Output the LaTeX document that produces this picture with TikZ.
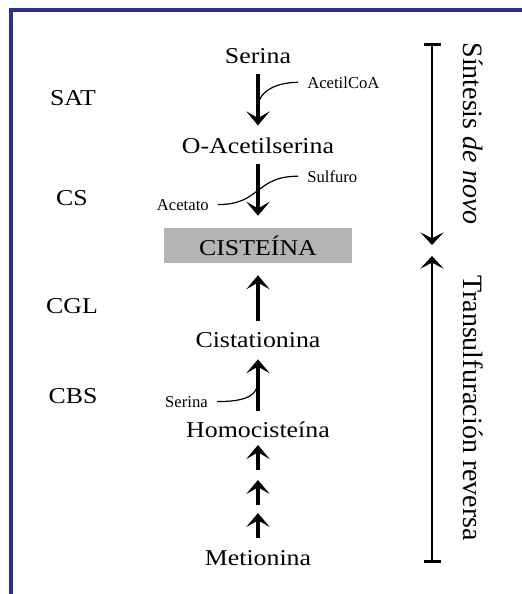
\documentclass[tikz,border=0pt]{standalone}
\usepackage{fontspec}
\setmainfont{Liberation Serif}
\newfontfamily\widerm{Liberation Serif}[FakeStretch=1.14]
\usetikzlibrary{arrows.meta}
\definecolor{frameBlue}{HTML}{2E3192}
\definecolor{boxGrey}{HTML}{B3B3B3}

\begin{document}
\begin{tikzpicture}[
    x=0.75pt,y=0.75pt,
    flow/.style={-{Stealth[length=10.5pt,width=17.5pt,inset=5pt]},line width=2.4pt},
    gap/.style={shorten <=8pt,shorten >=9pt},
    side/.style={line width=0.9pt},
    routebar/.style={{Bar[width=12.75pt]}-{Stealth[length=9.5pt,width=17.5pt,inset=4.5pt]},line width=2pt},
    metab/.style={font=\widerm\fontsize{17pt}{20pt}\selectfont,inner sep=0pt,
        text height=11.5pt,text depth=0pt,anchor=base},
    enzyme/.style={font=\widerm\fontsize{17pt}{20pt}\selectfont,inner sep=0pt,anchor=base},
    cosub/.style={font=\fontsize{12.5pt}{14pt}\selectfont,inner xsep=6.75pt,inner ysep=0pt},
    route/.style={font=\fontsize{21pt}{24pt}\selectfont,rotate=-90,anchor=base,inner sep=0pt},
]
\useasboundingbox (0,0) rectangle (522,-594);

% === FRAME ===
\draw[frameBlue,line width=3pt] (11,-594) -- (11,-10) -- (522,-10);

% === METABOLITES ===
\node[metab] (serina) at (258,-63) {Serina};
\node[metab] (oacetil) at (258,-153) {O-Acetilserina};
\node[metab,fill=boxGrey,anchor=center,minimum width=141pt,minimum height=26.25pt,
    text height=14.25pt] (cisteina) at (258,-245.5) {CISTEÍNA};
\node[metab] (cistat) at (258,-347) {Cistationina};
\node[metab] (homocis) at (258,-437) {Homocisteína};
\node[metab] (metion) at (258,-565) {Metionina};

% === MAIN FLOW ===
\draw[flow,gap] (serina) -- (oacetil);
\draw[flow,gap] (oacetil) -- (cisteina);
\draw[flow,gap] (cistat) -- (cisteina);
\draw[flow,gap] (homocis) -- (cistat);

% Metionina -> Homocisteina (several steps)
\foreach \ys/\ye [count=\i] in {470/445,505/480,538/513}{
    \coordinate (paso\i-ini) at (258,-\ys);
    \coordinate (paso\i-fin) at (258,-\ye);
    \draw[flow] (paso\i-ini) -- (paso\i-fin);
}

% === COSUBSTRATES ===
\node[cosub,anchor=base west] (acetilcoa) at (298,-88) {AcetilCoA};
\node[cosub,anchor=base west] (sulfuro) at (298,-182) {Sulfuro};
\node[cosub,anchor=base east] (acetato) at (218,-210) {Acetato};
\node[cosub,anchor=base east] (serinab) at (217,-407) {Serina};

\coordinate (j1) at (258,-108);
\coordinate (j3) at (258,-382);
\draw[side] (acetilcoa.west) to[out=180,in=90] (j1);
\draw[side] (sulfuro.west) to[out=180,in=0,looseness=1.3] (acetato.east);
\draw[side] (serinab.east) to[out=0,in=-90] (j3);

% === ENZYMES ===
\node[enzyme] (sat) at (73,-105) {SAT};
\node[enzyme] (cs) at (72,-205) {CS};
\node[enzyme] (cgl) at (72,-313) {CGL};
\node[enzyme] (cbs) at (73,-403) {CBS};

% === ROUTES (right) ===
\coordinate (sint-ini) at (432,-43);
\coordinate (sint-fin) at (432,-245);
\coordinate (trans-ini) at (432,-563);
\coordinate (trans-fin) at (432,-256);
\draw[routebar] (sint-ini) -- (sint-fin);
\draw[routebar] (trans-ini) -- (trans-fin);

\node[route] (denovo) at (463,-133.5) {Síntesis \textit{de novo}};
\node[route] (transsulf) at (463,-408) {Transulfuración reversa};

\end{tikzpicture}
\end{document}
